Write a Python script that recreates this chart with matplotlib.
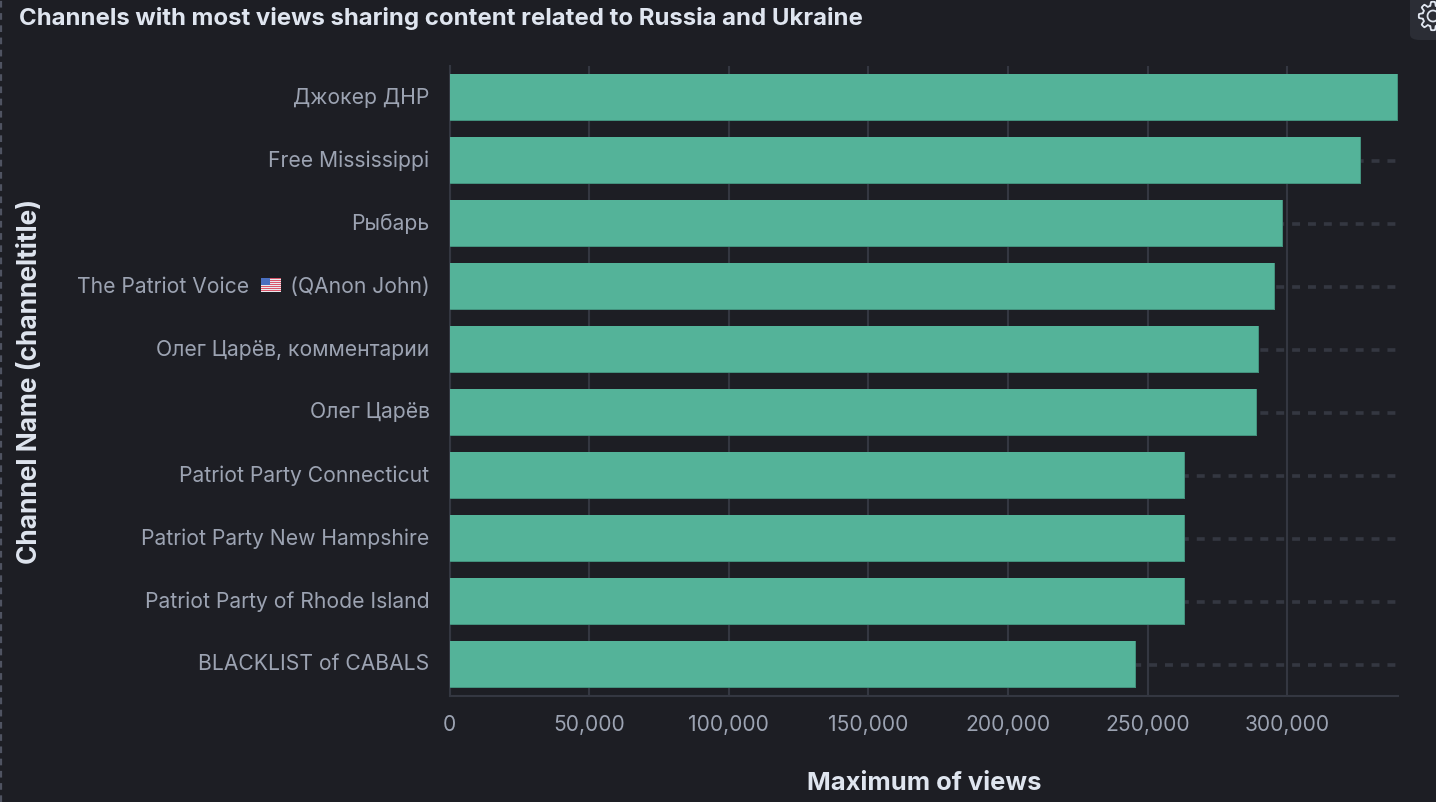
import numpy as np
import matplotlib
matplotlib.use("Agg")
import matplotlib.pyplot as plt
from matplotlib.patches import FancyBboxPatch, Rectangle, Polygon
from matplotlib.ticker import FuncFormatter
from matplotlib.transforms import ScaledTranslation

channels = ["Джокер ДНР", "Free Mississippi", "Рыбарь", "The Patriot Voice       (QAnon John)",
            "Олег Царёв, комментарии", "Олег Царёв", "Patriot Party Connecticut",
            "Patriot Party New Hampshire", "Patriot Party of Rhode Island", "BLACKLIST of CABALS"]
max_views = [339700, 326400, 298400, 295600, 290000, 289200, 263300, 263300, 263300, 245800]
x_ticks = [0, 50000, 100000, 150000, 200000, 250000, 300000]

W, H = 1436, 802
BG = "#1d1e24"
GRID = "#343741"
plt.rcParams["font.family"] = ["Inter", "DejaVu Sans"]

fig = plt.figure(figsize=(W / 100, H / 100), dpi=100, facecolor=BG)
ax = fig.add_axes([449.5 / W, 1 - 696 / H, (1398 - 449.5) / W, (696 - 66) / H], facecolor=BG)

y = list(range(len(channels)))
for i in y:
    ax.plot([0, 339700], [i, i], color=GRID, lw=2.6, dashes=(2.2, 2.2), zorder=1)
ax.barh(y, max_views, height=47 / 63, color="#43917d", zorder=3)
# lighter face on top leaves a thin dark edge at the bottom and right
ax.barh([i - 0.4 / 63 for i in y], [v - 300 for v in max_views], height=46.2 / 63, color="#54b399", zorder=4)

ax.set_xlim(0, 339700)
ax.set_ylim(9.5, -0.5)
ax.set_yticks(y)
ax.set_yticklabels(channels, fontsize=15.2, color="#9ca3b2")
ax.set_xticks(x_ticks)
ax.xaxis.set_major_formatter(FuncFormatter(lambda v, p: f"{int(v):,}"))
ax.tick_params(axis="x", length=0, pad=14, labelsize=15.1, labelcolor="#9ca3b2")
ax.tick_params(axis="y", length=0, pad=14.4)
for lab in ax.get_yticklabels():
    lab.set_transform(lab.get_transform() + ScaledTranslation(0, 0.02, fig.dpi_scale_trans))
ax.grid(axis="x", color=GRID, lw=1.5, zorder=0)
ax.set_axisbelow(True)
for s in ["top", "right"]:
    ax.spines[s].set_visible(False)
for s in ["left", "bottom"]:
    ax.spines[s].set_color(GRID)
    ax.spines[s].set_linewidth(1.5)

# titles, placed in figure pixels
fig.text(19 / W, 1 - 18.5 / H, "Channels with most views sharing content related to Russia and Ukraine",
         fontsize=17.25, fontweight="bold", color="#dfe5ef", ha="left", va="center")
fig.text(924 / W, 1 - 783 / H, "Maximum of views", fontsize=18.4, fontweight="bold",
         color="#dfe5ef", ha="center", va="center")
fig.text(30 / W, 1 - 381.5 / H, "Channel Name (channeltitle)", fontsize=18.9, fontweight="bold",
         color="#dfe5ef", ha="center", va="center", rotation=90)

# flag drawn by hand, there is no emoji font
def px_rect(x, y0, w, h, c):
    fig.add_artist(Rectangle((x / W, 1 - (y0 + h) / H), w / W, h / H, color=c, lw=0,
                             transform=fig.transFigure))

for k in range(7):
    px_rect(261, 278 + k * 2, 20, 1.2, "#d9566a")
    px_rect(261, 279.1 + k * 2, 20, 0.9, "#e9e9ee")
px_rect(261, 278, 9, 7, "#4a6fc0")

# settings button and gear in the corner
fig.add_artist(FancyBboxPatch((1410 / W, 1 - 40 / H), 50 / W, 60 / H, boxstyle="round,pad=0,rounding_size=0.007",
                              color="#2b2d35", lw=0, transform=fig.transFigure))
ang = np.linspace(0, 2 * np.pi, 193)
rad = 12.3 + 1.9 * np.clip(2.2 * np.cos(8 * ang), -1, 1)
gear = np.column_stack([(1433 + rad * np.cos(ang)) / W, 1 - (16 + rad * np.sin(ang)) / H])
fig.add_artist(Polygon(gear, closed=True, fill=False, ec="#dfe5ef", lw=1.3, joinstyle="round",
                       transform=fig.transFigure))
fig.add_artist(plt.Line2D((1433 + 5.5 * np.cos(ang)) / W, 1 - (16 + 5.5 * np.sin(ang)) / H, color="#dfe5ef", lw=1.3,
                          transform=fig.transFigure))

# dashed panel edge
fig.add_artist(plt.Line2D([1 / W, 1 / W], [0, 1], color="#4f5361", lw=1.6, dashes=(3, 2.5),
                          transform=fig.transFigure))

fig.savefig("out.png", dpi=100, facecolor=BG)
